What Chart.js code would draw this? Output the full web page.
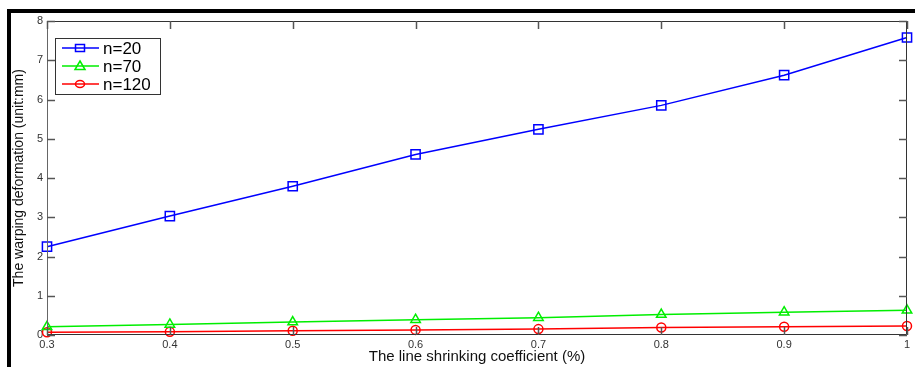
<!DOCTYPE html>
<html>
<head>
<meta charset="utf-8">
<script src="https://cdn.jsdelivr.net/npm/chart.js@4/dist/chart.umd.min.js"></script>
<style>
html,body{margin:0;padding:0;background:#fff;}
#wrap{position:relative;width:915px;height:367px;}
</style>
</head>
<body>
<div id="wrap"><canvas id="c" width="915" height="367"></canvas></div>
<script>
// Data
const xValues = [0.3, 0.4, 0.5, 0.6, 0.7, 0.8, 0.9, 1.0];
const n20 = [2.25, 3.03, 3.79, 4.60, 5.24, 5.85, 6.62, 7.58];
const n70 = [0.21, 0.27, 0.33, 0.39, 0.44, 0.52, 0.58, 0.63];
const n120 = [0.07, 0.08, 0.11, 0.13, 0.15, 0.19, 0.21, 0.23];
const seriesNames = ['n=20', 'n=70', 'n=120'];
const xTitle = 'The line shrinking coefficient (%)';
const yTitle = 'The warping deformation (unit:mm)';

function toPts(arr){ return xValues.map((x,i)=>({x:x,y:arr[i]})); }

const FONT = "'Liberation Sans', Arial, sans-serif";

const framePlugin = {
  id:'frame',
  beforeDraw(chart){
    const ctx = chart.ctx;
    ctx.save();
    ctx.fillStyle = '#fff';
    ctx.fillRect(0,0,chart.width,chart.height);
    ctx.fillStyle = '#000';
    ctx.fillRect(7,9,915-7,4);
    ctx.fillRect(7,9,4,367-9);
    ctx.restore();
  },
  afterDatasetsDraw(chart){
    const ctx = chart.ctx;
    const a = chart.chartArea;
    const xs = chart.scales.x, ys = chart.scales.y;
    ctx.save();
    ctx.lineWidth = 1;
    ctx.strokeStyle = '#333';
    ctx.beginPath();
    ctx.moveTo(a.left+0.5, a.top+0.5); ctx.lineTo(a.right-0.5, a.top+0.5);
    ctx.lineTo(a.right-0.5, a.bottom-0.5); ctx.lineTo(a.left+0.5, a.bottom-0.5);
    ctx.closePath();
    ctx.stroke();
    ctx.strokeStyle = '#666';
    ctx.beginPath();
    ctx.moveTo(a.left+0.5, a.top); ctx.lineTo(a.left+0.5, a.bottom);
    ctx.stroke();
    ctx.strokeStyle = '#555';
    ctx.lineWidth = 1.5;
    const tl = 8;
    xs.ticks.forEach(t=>{
      const px = Math.round(xs.getPixelForValue(t.value))+0.5;
      ctx.beginPath(); ctx.moveTo(px,a.bottom); ctx.lineTo(px,a.bottom-tl); ctx.stroke();
      ctx.beginPath(); ctx.moveTo(px,a.top); ctx.lineTo(px,a.top+tl); ctx.stroke();
    });
    ys.ticks.forEach(t=>{
      const py = Math.round(ys.getPixelForValue(t.value))+0.5;
      ctx.beginPath(); ctx.moveTo(a.left,py); ctx.lineTo(a.left+tl,py); ctx.stroke();
      ctx.beginPath(); ctx.moveTo(a.right,py); ctx.lineTo(a.right-tl,py); ctx.stroke();
    });
    ctx.restore();
  },
  afterDraw(chart){
    const ctx = chart.ctx;
    const bx = 55, by = 38, bw = 105, bh = 56;
    ctx.save();
    ctx.fillStyle = '#fff';
    ctx.fillRect(bx,by,bw,bh);
    ctx.strokeStyle = '#333';
    ctx.lineWidth = 1;
    ctx.strokeRect(bx+0.5,by+0.5,bw,bh);
    chart.data.datasets.forEach((ds,i)=>{
      const y = by + 10 + i*18;
      ctx.strokeStyle = ds.borderColor;
      ctx.lineWidth = 1.5;
      ctx.beginPath(); ctx.moveTo(62,y); ctx.lineTo(99,y); ctx.stroke();
      const cx = 80;
      ctx.beginPath();
      if (ds.pointStyle === 'rect') {
        ctx.rect(cx-4.5,y-3.5,9,7);
      } else if (ds.pointStyle === 'triangle') {
        ctx.moveTo(cx,y-5); ctx.lineTo(cx+5,y+3.5); ctx.lineTo(cx-5,y+3.5); ctx.closePath();
      } else {
        ctx.ellipse(cx,y,4.5,3.5,0,0,Math.PI*2);
      }
      ctx.stroke();
      ctx.fillStyle = '#000';
      ctx.font = '17px ' + FONT;
      ctx.textBaseline = 'middle';
      ctx.textAlign = 'left';
      ctx.fillText(ds.label, 103, y+1);
    });
    ctx.restore();
  }
};

function mk(label, data, color, style, r){
  return {
    label: label, data: toPts(data),
    borderColor: color, backgroundColor: 'rgba(0,0,0,0)',
    borderWidth: 1.5, pointStyle: style, pointRadius: r, pointHoverRadius: r,
    pointBorderColor: color, pointBackgroundColor: 'rgba(0,0,0,0)', pointBorderWidth: 1.5,
    tension: 0, clip: false
  };
}

new Chart(document.getElementById('c'), {
  type: 'line',
  data: {
    datasets: [
      mk(seriesNames[0], n20, '#0000ff', 'rect', 6.5),
      mk(seriesNames[1], n70, '#00ee00', 'triangle', 5.5),
      mk(seriesNames[2], n120, '#ff0000', 'circle', 4.5)
    ]
  },
  options: {
    responsive: false,
    animation: false,
    devicePixelRatio: 1,
    layout: { padding: { top: 21, right: 6, left: 0, bottom: 0 } },
    plugins: { legend: { display: false }, tooltip: { enabled: false } },
    scales: {
      x: {
        type: 'linear', min: 0.3, max: 1.0,
        afterBuildTicks(s){ s.ticks = xValues.map(v=>({value:v})); },
        afterFit(s){ s.height = 32; },
        grid: { display: false, drawTicks: false, tickLength: 0 },
        border: { display: false },
        ticks: {
          padding: 3, color: '#333', font: { family: FONT, size: 11 },
          maxRotation: 0, autoSkip: false,
          callback(v){ return v === 1 ? '1' : v.toFixed(1); }
        },
        title: { display: true, text: xTitle, color: '#111', font: { family: FONT, size: 15 }, padding: { top: 0, bottom: 1 } }
      },
      y: {
        type: 'linear', min: 0, max: 8,
        ticks: { stepSize: 1, padding: 4, color: '#333', font: { family: FONT, size: 11 } },
        afterFit(s){ s.width = 47; },
        grid: { display: false, drawTicks: false, tickLength: 0 },
        border: { display: false },
        title: { display: true, text: yTitle, color: '#111', font: { family: FONT, size: 14 }, padding: { top: 11, bottom: 0 } }
      }
    }
  },
  plugins: [framePlugin]
});
</script>
</body>
</html>
